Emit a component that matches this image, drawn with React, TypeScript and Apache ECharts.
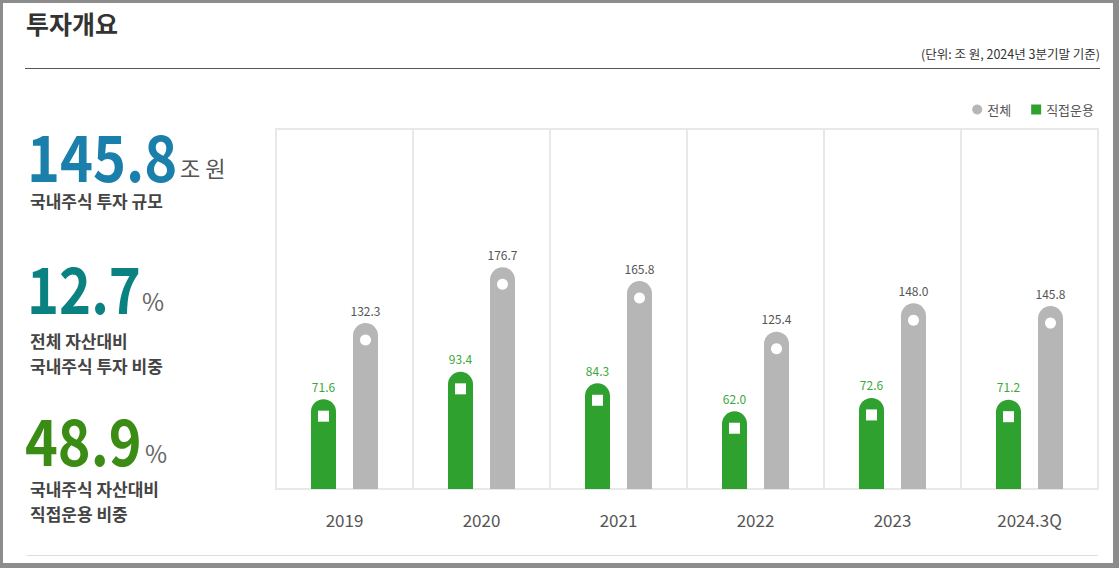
import React, { useEffect, useRef } from "react";
import * as echarts from "echarts";

const categories = ["2019", "2020", "2021", "2022", "2023", "2024.3Q"];
const totalValues = [132.3, 176.7, 165.8, 125.4, 148.0, 145.8];
const directValues = [71.6, 93.4, 84.3, 62.0, 72.6, 71.2];
const seriesNames = ["전체", "직접운용"];

const GREEN = "#2fa12f";
const GRAY = "#b6b6b6";
const FONT = "'Noto Sans CJK KR', 'Noto Sans', sans-serif";

export default function App() {
  const ref = useRef<HTMLDivElement>(null);
  useEffect(() => {
    document.body.style.margin = "0";
    const chart = echarts.init(ref.current!, null, { renderer: "svg" });
    const txt = (
      text: string,
      x: number,
      y: number,
      size: number,
      color: string,
      weight: string | number = "normal",
      align: string = "left",
      scaleX: number = 1
    ) => ({
      type: "text",
      x,
      y,
      scaleX,
      silent: true,
      style: {
        text,
        fill: color,
        font: `${weight} ${size}px ${FONT}`,
        align,
        verticalAlign: "middle",
      },
    });
    chart.setOption({
      animation: false,
      textStyle: { fontFamily: FONT },
      grid: {
        left: 276,
        top: 129,
        width: 822,
        height: 360,
        show: true,
        borderColor: "#e8e8e8",
        borderWidth: 2,
      },
      legend: {
        top: 98,
        right: 20,
        itemWidth: 10,
        itemHeight: 10,
        itemGap: 20,
        textStyle: { fontSize: 13, color: "#555", fontFamily: FONT },
        data: [
          { name: seriesNames[0], icon: "circle" },
          { name: seriesNames[1], icon: "rect" },
        ],
      },
      xAxis: {
        type: "category",
        data: categories,
        axisTick: { show: false },
        axisLine: { show: true, lineStyle: { color: "#e8e8e8", width: 2 } },
        splitLine: { show: true, lineStyle: { color: "#e8e8e8", width: 2 } },
        axisLabel: { fontSize: 17, color: "#555", margin: 22, fontFamily: FONT },
      },
      yAxis: { type: "value", min: 0, max: 287, show: false, splitLine: { show: false } },
      series: [
        {
          name: seriesNames[1],
          type: "bar",
          data: directValues,
          barWidth: 25,
          barGap: "68%",
          itemStyle: { color: GREEN, borderRadius: [12.5, 12.5, 0, 0] },
          label: {
            show: true,
            position: "top",
            distance: 7,
            color: "#3aa83a",
            fontSize: 12,
            fontFamily: FONT,
            formatter: (p: any) => Number(p.value).toFixed(1),
          },
        },
        {
          name: seriesNames[0],
          type: "bar",
          data: totalValues,
          barWidth: 25,
          itemStyle: { color: GRAY, borderRadius: [12.5, 12.5, 0, 0] },
          label: {
            show: true,
            position: "top",
            distance: 7,
            color: "#555",
            fontSize: 12,
            fontFamily: FONT,
            formatter: (p: any) => Number(p.value).toFixed(1),
          },
        },
        {
          type: "scatter",
          data: directValues,
          symbol: "rect",
          symbolSize: 11,
          symbolOffset: [-21, 17],
          itemStyle: { color: "#fff", opacity: 1 },
          z: 5,
          silent: true,
        },
        {
          type: "scatter",
          data: totalValues,
          symbol: "circle",
          symbolSize: 11,
          symbolOffset: [21, 17],
          itemStyle: { color: "#fff", opacity: 1 },
          z: 5,
          silent: true,
        },
      ],
      graphic: [
        { type: "rect", shape: { x: 0, y: 0, width: 3, height: 568 }, style: { fill: "#8c8c8c" }, silent: true },
        { type: "rect", shape: { x: 0, y: 0, width: 1119, height: 3 }, style: { fill: "#8c8c8c" }, silent: true },
        { type: "rect", shape: { x: 1113, y: 0, width: 6, height: 568 }, style: { fill: "#8c8c8c" }, silent: true },
        { type: "rect", shape: { x: 0, y: 563, width: 1119, height: 5 }, style: { fill: "#8c8c8c" }, silent: true },
        txt("투자개요", 26, 23, 25, "#333", "bold"),
        txt("(단위: 조 원, 2024년 3분기말 기준)", 1100, 53, 12.5, "#333", "normal", "right"),
        { type: "line", shape: { x1: 25, y1: 68.5, x2: 1100, y2: 68.5 }, style: { stroke: "#555", lineWidth: 1 }, silent: true },
        { type: "line", shape: { x1: 27, y1: 555.5, x2: 1098, y2: 555.5 }, style: { stroke: "#ddd", lineWidth: 1 }, silent: true },
        txt("145.8", 27, 154, 64, "#1b7fab", "bold", "left", 0.875),
        txt("조 원", 180, 167, 22, "#555"),
        txt("국내주식 투자 규모", 30, 200, 17, "#444", "bold"),
        txt("12.7", 27, 286, 64, "#0b8282", "bold", "left", 0.85),
        txt("%", 142, 300, 24, "#666"),
        txt("전체 자산대비", 30, 340, 17, "#444", "bold"),
        txt("국내주식 투자 비중", 30, 365, 17, "#444", "bold"),
        txt("48.9", 25, 438, 64, "#3a8c14", "bold", "left", 0.87),
        txt("%", 145, 452, 24, "#666"),
        txt("국내주식 자산대비", 30, 488, 17, "#444", "bold"),
        txt("직접운용 비중", 30, 513, 17, "#444", "bold"),
      ],
    });
    return () => chart.dispose();
  }, []);
  return <div ref={ref} style={{ width: 1119, height: 568, background: "#fff" }} />;
}
